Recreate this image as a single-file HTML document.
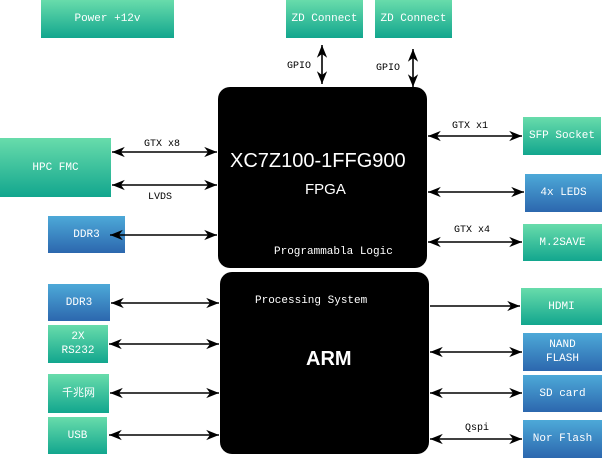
<!DOCTYPE html>
<html><head><meta charset="utf-8"><style>
body{margin:0;width:602px;height:458px;background:#fff;position:relative;overflow:hidden;font-family:"Liberation Mono","Noto Sans CJK SC",monospace;}
.b{position:absolute;display:flex;align-items:center;justify-content:center;text-align:center;color:#fff;font-size:11px;line-height:14px;}
.g{background:linear-gradient(#68dcab,#12a68e);}
.u{background:linear-gradient(#4da9d8,#2c67ae);}
.k{position:absolute;background:#000;border-radius:12px;}
.t{position:absolute;font-size:10px;color:#000;white-space:nowrap;}
.w{position:absolute;color:#fff;white-space:nowrap;}
svg{position:absolute;left:0;top:0;}
</style></head><body>
<div class="b g" style="left:41px;top:0;width:133px;height:38px">Power +12v</div>
<div class="b g" style="left:286px;top:0;width:77px;height:38px">ZD Connect</div>
<div class="b g" style="left:375px;top:0;width:77px;height:38px">ZD Connect</div>
<div class="b g" style="left:0;top:138px;width:111px;height:59px">HPC FMC</div>
<div class="b u" style="left:48px;top:216px;width:77px;height:37px">DDR3</div>
<div class="b u" style="left:48px;top:284px;width:62px;height:37px">DDR3</div>
<div class="b g" style="left:48px;top:325px;width:60px;height:38px">2X<br>RS232</div>
<div class="b g" style="left:48px;top:374px;width:61px;height:39px">千兆网</div>
<div class="b g" style="left:48px;top:417px;width:59px;height:37px">USB</div>
<div class="b g" style="left:523px;top:117px;width:78px;height:38px">SFP Socket</div>
<div class="b u" style="left:525px;top:174px;width:77px;height:38px">4x LEDS</div>
<div class="b g" style="left:523px;top:224px;width:79px;height:37px">M.2SAVE</div>
<div class="b g" style="left:521px;top:288px;width:81px;height:37px">HDMI</div>
<div class="b u" style="left:523px;top:333px;width:79px;height:38px">NAND<br>FLASH</div>
<div class="b u" style="left:523px;top:375px;width:79px;height:37px">SD card</div>
<div class="b u" style="left:523px;top:420px;width:79px;height:38px">Nor Flash</div>
<div class="k" style="left:218px;top:87px;width:209px;height:181px"></div>
<div class="k" style="left:220px;top:272px;width:209px;height:182px"></div>
<div class="w" style="left:230px;top:150px;font-size:20px;font-family:'Liberation Sans',sans-serif">XC7Z100-1FFG900</div>
<div class="w" style="left:305px;top:181px;font-size:15px;font-family:'Liberation Sans',sans-serif">FPGA</div>
<div class="w" style="left:274px;top:246px;font-size:11px">Programmabla Logic</div>
<div class="w" style="left:255px;top:295px;font-size:11px">Processing System</div>
<div class="w" style="left:306px;top:348px;font-size:20px;font-family:'Liberation Sans',sans-serif;font-weight:bold">ARM</div>
<div class="t" style="left:287px;top:61px">GPIO</div>
<div class="t" style="left:376px;top:63px">GPIO</div>
<div class="t" style="left:144px;top:139px">GTX x8</div>
<div class="t" style="left:148px;top:192px">LVDS</div>
<div class="t" style="left:452px;top:121px">GTX x1</div>
<div class="t" style="left:454px;top:225px">GTX x4</div>
<div class="t" style="left:465px;top:423px">Qspi</div>
<svg width="602" height="458">
<defs><marker id="a" viewBox="0 0 10 10" refX="10" refY="5" markerWidth="8" markerHeight="8" orient="auto-start-reverse"><path d="M0,1L10,5L0,9L3,5z" fill="#000"/></marker></defs>
<g stroke="#000" stroke-width="1.6" marker-start="url(#a)" marker-end="url(#a)">
<line x1="322" y1="45" x2="322" y2="84"/>
<line x1="413" y1="49" x2="413" y2="87"/>
<line x1="112" y1="152" x2="217" y2="152"/>
<line x1="112" y1="185" x2="217" y2="185"/>
<line x1="110" y1="235" x2="217" y2="235"/>
<line x1="428" y1="136" x2="522" y2="136"/>
<line x1="428" y1="192" x2="524" y2="192"/>
<line x1="428" y1="242" x2="522" y2="242"/>
<line x1="111" y1="303" x2="219" y2="303"/>
<line x1="109" y1="344" x2="219" y2="344"/>
<line x1="110" y1="393" x2="219" y2="393"/>
<line x1="109" y1="435" x2="219" y2="435"/>
<line x1="430" y1="352" x2="522" y2="352"/>
<line x1="430" y1="393" x2="522" y2="393"/>
<line x1="430" y1="439" x2="522" y2="439"/>
</g>
<line x1="430" y1="306" x2="520" y2="306" stroke="#000" stroke-width="1.6" marker-end="url(#a)"/>
</svg>
</body></html>
